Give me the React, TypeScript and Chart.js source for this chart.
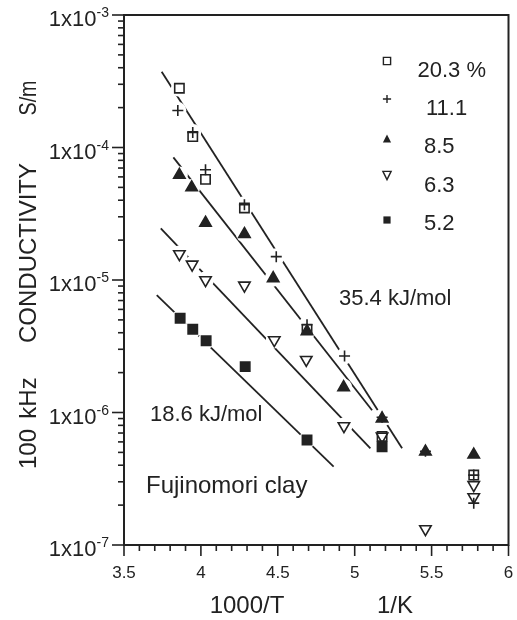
import React, { useEffect, useRef } from "react";
import { Chart, registerables } from "chart.js";

Chart.register(...registerables);

// ---------------- data ----------------
const seriesLabels = ["20.3 %", "11.1", "8.5", "6.3", "5.2"];

// 1000/T (1/K) and 100 kHz conductivity (S/m)
const x203 = [3.86, 3.947, 4.03, 4.283, 4.69, 5.178, 5.774];
const y203 = [2.8e-4, 1.21e-4, 5.75e-5, 3.5e-5, 4.25e-6, 6.6e-7, 3.37e-7];

const x111 = [3.85, 3.947, 4.03, 4.283, 4.49, 4.69, 4.934, 5.178, 5.46, 5.774, 5.774];
const y111 = [1.9e-4, 1.3e-4, 6.8e-5, 3.7e-5, 1.5e-5, 4.6e-6, 2.67e-6, 9.2e-7, 5.1e-7, 3.37e-7, 2.07e-7];

const x85 = [3.86, 3.94, 4.03, 4.283, 4.47, 4.69, 4.928, 5.178, 5.46, 5.774];
const y85 = [6.2e-5, 5.0e-5, 2.7e-5, 2.22e-5, 1.03e-5, 4.1e-6, 1.55e-6, 9.0e-7, 5.06e-7, 4.8e-7];

const x63 = [3.86, 3.943, 4.03, 4.283, 4.477, 4.685, 4.93, 5.178, 5.46, 5.774, 5.774];
const y63 = [1.57e-5, 1.31e-5, 1.0e-5, 9.1e-6, 3.52e-6, 2.5e-6, 7.9e-7, 6.6e-7, 1.32e-7, 2.84e-7, 2.3e-7];

const x52 = [3.865, 3.947, 4.034, 4.288, 4.69, 5.178];
const y52 = [5.14e-6, 4.25e-6, 3.48e-6, 2.22e-6, 6.2e-7, 5.5e-7];

// fitted lines (end points)
const fitAx = [3.745, 5.308];
const fitAy = [3.73e-4, 5.37e-7];
const fitBx = [3.821, 5.113];
const fitBy = [8.43e-5, 1.04e-6];
const fitCx = [3.739, 5.102];
const fitCy = [2.45e-5, 5.37e-7];
const fitDx = [3.713, 4.863];
const fitDy = [7.7e-6, 3.9e-7];

const xTicks = [3.5, 4, 4.5, 5, 5.5, 6];
const xTickLabels = ["3.5", "4", "4.5", "5", "5.5", "6"];
const yDecades = [-7, -6, -5, -4, -3];
const annotations = ["35.4 kJ/mol", "18.6 kJ/mol", "Fujinomori clay"];
const xTitleParts = ["1000/T", "1/K"];
const yTitleParts = ["S/m", "CONDUCTIVITY", "kHz", "100"];

// ---------------- styles ----------------
const INK = "#222222";
const BG = "#ffffff";
const FF = "'Liberation Sans', Arial, Helvetica, sans-serif";

const pts = (xs: number[], ys: number[]) => xs.map((x, i) => ({ x, y: ys[i] }));

type Mk = { style: string; rot: number; filled: boolean; r: number };
const markers: Mk[] = [
  { style: "rect", rot: 0, filled: false, r: 6.6 },
  { style: "cross", rot: 0, filled: false, r: 5.5 },
  { style: "triangle", rot: 0, filled: true, r: 6.6 },
  { style: "triangle", rot: 180, filled: false, r: 6.6 },
  { style: "rect", rot: 0, filled: true, r: 6.6 },
];
const seriesData = [pts(x203, y203), pts(x111, y111), pts(x85, y85), pts(x63, y63), pts(x52, y52)];
const fitData = [pts(fitAx, fitAy), pts(fitBx, fitBy), pts(fitCx, fitCy), pts(fitDx, fitDy)];

function drawLegendMarker(ctx: CanvasRenderingContext2D, k: number, x: number, y: number) {
  const s = 3.6;
  ctx.beginPath();
  if (k === 0 || k === 4) {
    ctx.rect(x - s, y - s, 2 * s, 2 * s);
    if (k === 4) ctx.fill();
    else ctx.stroke();
  } else if (k === 1) {
    ctx.moveTo(x - s - 0.5, y);
    ctx.lineTo(x + s + 0.5, y);
    ctx.moveTo(x, y - s - 0.5);
    ctx.lineTo(x, y + s + 0.5);
    ctx.stroke();
  } else if (k === 2) {
    ctx.moveTo(x, y - s - 1);
    ctx.lineTo(x + s + 0.5, y + s);
    ctx.lineTo(x - s - 0.5, y + s);
    ctx.closePath();
    ctx.fill();
  } else {
    ctx.moveTo(x - s - 0.5, y - s);
    ctx.lineTo(x + s + 0.5, y - s);
    ctx.lineTo(x, y + s + 1);
    ctx.closePath();
    ctx.stroke();
  }
}

function rotText(ctx: CanvasRenderingContext2D, t: string, bx: number, cy: number, squeeze = 1) {
  ctx.save();
  ctx.translate(bx, cy);
  ctx.rotate(-Math.PI / 2);
  ctx.scale(squeeze, 1);
  ctx.textAlign = "center";
  ctx.textBaseline = "alphabetic";
  ctx.fillText(t, 0, 0);
  ctx.restore();
}

const decorPlugin = {
  id: "decor",
  beforeDraw(chart: any) {
    const { ctx, width, height } = chart;
    ctx.save();
    ctx.fillStyle = BG;
    ctx.fillRect(0, 0, width, height);
    ctx.restore();
  },
  afterDraw(chart: any) {
    const { ctx, chartArea } = chart;
    const { left, right, top, bottom } = chartArea;
    const xs = chart.scales.x;
    const ys = chart.scales.y;
    ctx.save();
    ctx.strokeStyle = INK;
    ctx.fillStyle = INK;
    ctx.lineWidth = 2;
    ctx.strokeRect(left, top, right - left, bottom - top);

    // x ticks (every 0.1, major every 0.5)
    ctx.lineWidth = 1.6;
    for (let i = 0; i <= 25; i++) {
      const v = 3.5 + i * 0.1;
      const px = xs.getPixelForValue(v);
      const len = i % 5 === 0 ? 11 : 6;
      ctx.beginPath();
      ctx.moveTo(px, bottom);
      ctx.lineTo(px, bottom + len);
      ctx.stroke();
    }
    // x tick labels
    ctx.font = `17px ${FF}`;
    ctx.textAlign = "center";
    ctx.textBaseline = "alphabetic";
    xTicks.forEach((v, i) => {
      ctx.fillText(xTickLabels[i], xs.getPixelForValue(v), bottom + 33);
    });

    // y ticks (log)
    yDecades.forEach((e) => {
      for (let m = 1; m <= 9; m++) {
        if (e === -3 && m > 1) break;
        const v = m * Math.pow(10, e);
        const py = ys.getPixelForValue(v);
        const len = m === 1 ? 12 : 6;
        ctx.beginPath();
        ctx.moveTo(left - len, py);
        ctx.lineTo(left, py);
        ctx.stroke();
      }
    });

    // y tick labels 1x10^n
    yDecades.forEach((e) => {
      const py = ys.getPixelForValue(Math.pow(10, e));
      const sup = String(e);
      ctx.font = `14px ${FF}`;
      const ws = ctx.measureText(sup).width;
      const rightEdge = 109;
      ctx.textAlign = "left";
      ctx.textBaseline = "alphabetic";
      ctx.fillText(sup, rightEdge - ws, py + 2);
      ctx.font = `22px ${FF}`;
      ctx.textAlign = "right";
      ctx.fillText("1x10", rightEdge - ws, py + 11);
    });

    // y axis title (rotated pieces)
    ctx.font = `24px ${FF}`;
    const yCenters = [98, 253, 398, 449];
    const squeeze = [0.82, 1, 1, 1];
    yTitleParts.forEach((t, i) => rotText(ctx, t, 36, yCenters[i], squeeze[i]));

    // x axis title
    ctx.textAlign = "center";
    ctx.textBaseline = "alphabetic";
    ctx.font = `24px ${FF}`;
    ctx.fillText(xTitleParts[0], 247, 613);
    ctx.fillText(xTitleParts[1], 395, 613);

    // annotations
    ctx.textAlign = "left";
    ctx.font = `22px ${FF}`;
    ctx.fillText(annotations[0], 339, 305);
    ctx.fillText(annotations[1], 150, 421);
    ctx.font = `24px ${FF}`;
    ctx.fillText(annotations[2], 146, 493);

    // legend
    const legY = [61, 99, 139, 175, 220];
    const legBase = [77, 115, 153, 192, 230];
    const legX = [417.5, 426, 424, 424, 424];
    ctx.lineWidth = 1.4;
    ctx.font = `22px ${FF}`;
    seriesLabels.forEach((lab, k) => {
      drawLegendMarker(ctx, k, 387, legY[k]);
      ctx.fillText(lab, legX[k], legBase[k]);
    });
    ctx.restore();
  },
};

export default function App() {
  const ref = useRef<HTMLCanvasElement | null>(null);
  useEffect(() => {
    if (!ref.current) return;
    const datasets: any[] = [];
    seriesData.forEach((d, k) => {
      const m = markers[k];
      datasets.push({
        type: "scatter",
        label: seriesLabels[k],
        data: d,
        order: 1,
        showLine: false,
        pointStyle: m.style,
        rotation: m.rot,
        pointRadius: m.r,
        pointBorderWidth: 1.6,
        pointBorderColor: INK,
        pointBackgroundColor: m.filled ? INK : "rgba(0,0,0,0)",
      });
    });
    seriesData.forEach((d, k) => {
      datasets.push({
        type: "scatter",
        label: "halo" + k,
        data: d,
        order: 2,
        showLine: false,
        pointStyle: "circle",
        pointRadius: 8.5,
        pointBorderWidth: 0,
        pointBorderColor: BG,
        pointBackgroundColor: BG,
      });
    });
    fitData.forEach((d, k) => {
      datasets.push({
        type: "scatter",
        label: "fit" + k,
        data: d,
        order: 3,
        showLine: true,
        pointRadius: 0,
        borderColor: INK,
        borderWidth: 1.8,
        fill: false,
      });
    });

    const chart = new Chart(ref.current, {
      type: "scatter",
      data: { datasets },
      options: {
        animation: false,
        responsive: false,
        devicePixelRatio: 1,
        events: [],
        layout: { padding: { top: 15, right: 8.5, left: 0, bottom: 0 } },
        plugins: { legend: { display: false }, tooltip: { enabled: false } },
        scales: {
          x: {
            type: "linear",
            min: 3.5,
            max: 6,
            afterFit: (s: any) => {
              s.height = 75;
              s.paddingLeft = 0;
              s.paddingRight = 0;
            },
            grid: { display: false },
            border: { display: false },
            ticks: { display: false },
          },
          y: {
            type: "logarithmic",
            min: 1e-7,
            max: 1e-3,
            afterFit: (s: any) => {
              s.width = 124;
              s.paddingTop = 0;
              s.paddingBottom = 0;
            },
            grid: { display: false },
            border: { display: false },
            ticks: { display: false },
          },
        },
      },
      plugins: [decorPlugin],
    } as any);
    return () => chart.destroy();
  }, []);
  return (
    <div style={{ position: "fixed", left: 0, top: 0, width: 517, height: 620, background: BG }}>
      <canvas ref={ref} width={517} height={620} style={{ display: "block" }} />
    </div>
  );
}
